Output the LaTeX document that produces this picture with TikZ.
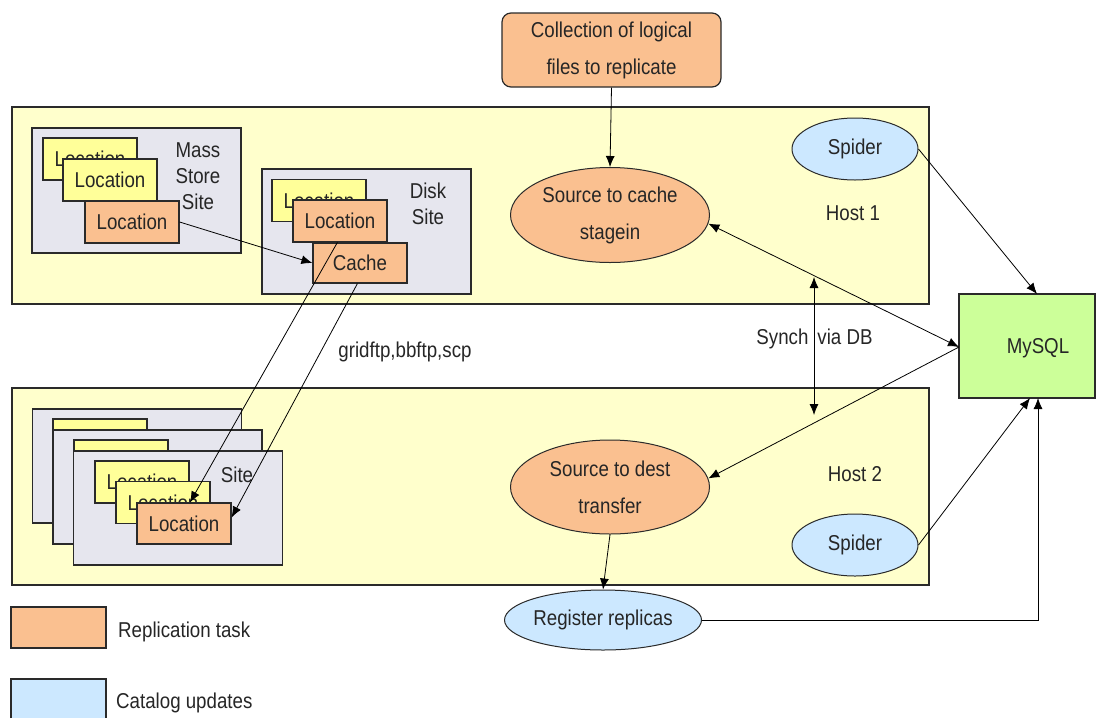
\documentclass[tikz,border=0pt]{standalone}
\usepackage{fontspec}
\setmainfont{Liberation Sans}[FakeStretch=0.87]
\usetikzlibrary{arrows.meta,shapes.geometric,calc}
\definecolor{hostc}{HTML}{FFFFCC}
\definecolor{sitec}{HTML}{E6E6EE}
\definecolor{yelc}{HTML}{FFFF99}
\definecolor{orc}{HTML}{FAC090}
\definecolor{bluc}{HTML}{CCE8FF}
\definecolor{grnc}{HTML}{CCFF99}
\definecolor{linec}{HTML}{2A2A2A}
\definecolor{txtc}{HTML}{262626}
\begin{document}
\begin{tikzpicture}[x=1pt,y=-1pt,
  font=\fontsize{21.5}{26}\selectfont, text=txtc,
  box/.style={draw=linec, line width=1.2pt, inner sep=0pt, rectangle},
  host/.style={box, fill=hostc, line width=1.5pt, minimum width=917pt, minimum height=197pt},
  site/.style={box, fill=sitec, minimum width=209pt},
  loc/.style={box, minimum width=94pt, minimum height=42pt},
  yloc/.style={loc, fill=yelc},
  oloc/.style={loc, fill=orc},
  ell/.style={ellipse, draw=linec, line width=1pt, inner sep=0pt},
  two/.style={align=center, font=\fontsize{21.5}{37}\selectfont},
  conn/.style={-{Latex[length=11pt,width=9pt]}, line width=0.8pt, draw=black},
  dconn/.style={{Latex[length=11pt,width=9pt]}-{Latex[length=11pt,width=9pt]}, line width=0.8pt, draw=black},
  lbl/.style={inner sep=0pt}
]
\useasboundingbox[fill=white] (0,0) rectangle (1107,718);

% hosts
\node[host] (host1) at (470.5,205.5) {};
\node[host] (host2) at (470.5,486.5) {};
\node[lbl] (h1t) at (853,213) {Host 1};
\node[lbl] (h2t) at (855,474) {Host 2};

% mass store site
\node[site, minimum height=125pt] (mss) at (136.5,190.5) {};
\node[lbl, align=center] (msst) at (198,176) {Mass\\Store\\Site};
\node[yloc] (m1) at (90,159) {Location};
\node[yloc] (m2) at (110,180) {Location};
\node[oloc] (m3) at (132,222) {Location};

% disk site
\node[site, minimum height=125pt] (ds) at (366.5,231.5) {};
\node[lbl, align=center] (dst) at (428,204) {Disk\\Site};
\node[yloc] (d1) at (319,200.5) {Location};
\node[oloc] (d2) at (340,221) {Location};
\node[oloc, minimum height=40pt] (cache) at (360,263) {Cache};

% host 2 sites
\node[site, minimum height=114pt] (s1) at (137,466) {};
\node[yloc] (s1a) at (100,440) {Location};
\node[site, minimum height=114pt] (s2) at (157.5,487) {};
\node[yloc] (s2a) at (121,461) {Location};
\node[site, minimum height=114pt] (s3) at (178,508) {};
\node[lbl] (s3t) at (237,475) {Site};
\node[yloc] (f1) at (142,482) {Location};
\node[yloc] (f2) at (163,502.5) {Location};
\node[oloc, minimum height=41pt] (f3) at (184,523.5) {Location};

% top collection
\node[box, fill=orc, rounded corners=9pt, minimum width=219pt, minimum height=74pt, two] (coll) at (611.5,50) {Collection of logical\\files to replicate};

% ellipses
\node[ell, fill=orc, minimum width=199pt, minimum height=95pt, two] (stagein) at (610,215) {Source to cache\\stagein};
\node[ell, fill=orc, minimum width=199pt, minimum height=94pt, two] (xfer) at (610,487) {Source to dest\\transfer};
\node[ell, fill=bluc, minimum width=126pt, minimum height=62pt] (sp1) at (855,149) {Spider};
\node[ell, fill=bluc, minimum width=126pt, minimum height=62pt] (sp2) at (855,545) {Spider};
\node[ell, fill=bluc, minimum width=196pt, minimum height=60pt] (reg) at (603,620) {Register replicas};

% MySQL
\node[box, fill=grnc, minimum width=136pt, minimum height=104pt] (mysql) at (1027,346) {};
\node[lbl] (mysqlt) at (1038,348) {MySQL};

% legend
\node[box, fill=orc, minimum width=95pt, minimum height=41pt] (legor) at (58.5,627.5) {};
\node[lbl, anchor=west] (legort) at (118,632) {Replication task};
\fill[bluc] (11,679) rectangle (106,718);
\draw[linec, line width=1.2pt] (11,718) |- (106,679) -- (106,718);
\node[lbl, anchor=west] (legbt) at (116,703) {Catalog updates};

% coordinates for connector ends
\coordinate (cacheTop) at ($(cache.north west)+(25,0)$);
\coordinate (cacheBot) at ($(cache.south west)+(45,0)$);
\coordinate (f3top) at ([xshift=6pt]f3.north);
\coordinate (f3east) at ([yshift=6pt]f3.east);
\coordinate (mtop) at (1037,294);
\coordinate (mleft) at (959,347);
\coordinate (mbot1) at (1030,398);
\coordinate (mbot2) at (1038,398);
\coordinate (sy1) at (814,277);
\coordinate (sy2) at (814,415);

% connectors
\draw[conn] (m3.east) -- (cache.west);
\draw[conn] (cacheTop) -- (f3top);
\draw[conn] (cacheBot) -- (f3east);
\node[lbl] (gridlbl) at (405,352) {gridftp,bbftp,scp};
\draw[conn] (coll.south) -- (stagein.north);
\draw[conn] (sp1.east) -- (mtop);
\draw[dconn] (stagein.-5) -- (mleft);
\draw[conn] (mleft) -- (xfer.5);
\draw[conn] (sp2.east) -- (mbot1);
\draw[conn] (xfer.south) -- (reg.north);
\draw[conn] (reg.east) -| (mbot2);
\draw[dconn] (sy1) -- (sy2);
\node[lbl] (synch) at (814.5,339) {Synch\hspace{9pt}via DB};
\end{tikzpicture}
\end{document}
